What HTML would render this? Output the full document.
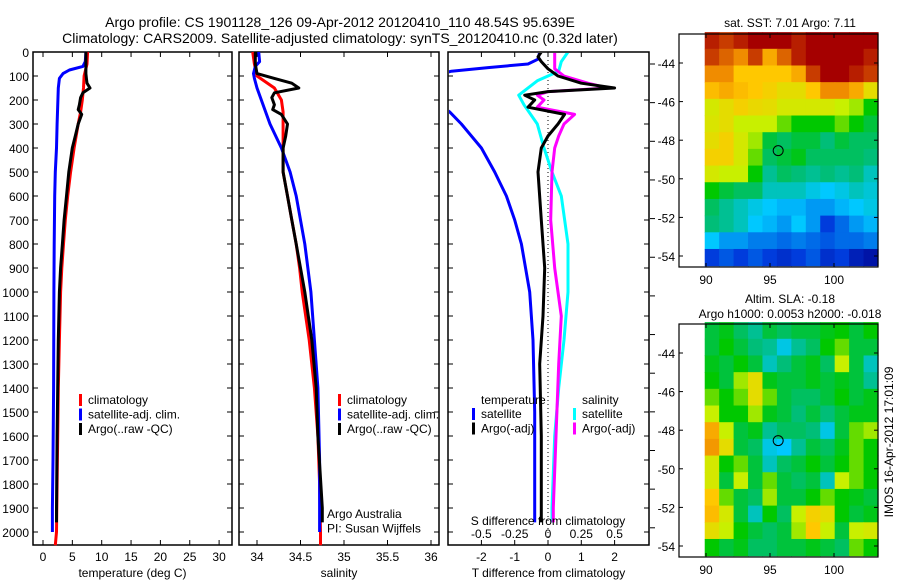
<!DOCTYPE html>
<html><head><meta charset="utf-8"><style>
html,body{margin:0;padding:0;background:#fff;}
svg{display:block;font-family:"Liberation Sans",sans-serif;}
</style></head><body>
<svg id="fig" width="900" height="580" viewBox="0 0 900 580" xmlns="http://www.w3.org/2000/svg">
<g font-size="14" text-anchor="middle">
<text x="340" y="27">Argo profile: CS 1901128_126 09-Apr-2012 20120410_110 48.54S 95.639E</text>
<text x="340" y="43">Climatology: CARS2009. Satellite-adjusted climatology: synTS_20120410.nc (0.32d later)</text>
</g>
<g id="plots"></g>
</svg>
<script>
// ---------- profile data ----------
const depthRed = [0,50,100,150,200,250,300,400,500,600,700,800,900,1000,1200,1400,1600,1800,2000,2055];
const tempRed = [7.6,7.5,7.0,6.9,6.7,6.4,6.0,5.3,4.7,4.2,3.8,3.5,3.2,3.0,2.8,2.6,2.5,2.4,2.3,2.1];
const salRed = [33.95,33.97,34.0,34.2,34.28,34.3,34.3,34.3,34.3,34.35,34.4,34.45,34.49,34.52,34.6,34.66,34.7,34.72,34.73,34.73];
const depthBlue = [0,40,60,75,90,110,150,300,400,500,600,800,1000,1400,1700,1900,2000];
const tempBlue = [7.3,7.2,6.8,4.5,3.4,2.8,2.6,2.4,2.3,2.1,2.0,1.9,1.85,1.8,1.7,1.6,1.6];
const salBlue = [34.02,34.03,33.98,33.97,33.96,33.97,34.0,34.15,34.28,34.38,34.45,34.55,34.62,34.7,34.72,34.72,34.72];
const depthArgo = [0,50,90,110,130,150,170,190,220,240,260,300,350,400,500,600,700,800,900,1000,1200,1400,1600,1900,1960];
const tempArgo = [7.3,7.3,7.3,7.4,7.5,8.0,6.8,6.4,6.2,6.0,6.6,6.0,5.5,5.0,4.4,4.0,3.6,3.3,3.0,2.8,2.6,2.5,2.4,2.3,2.3];
const salArgo = [33.98,33.98,34.0,34.2,34.4,34.48,34.2,34.17,34.2,34.18,34.28,34.35,34.33,34.3,34.3,34.35,34.4,34.45,34.5,34.55,34.63,34.68,34.7,34.75,34.75];
// differences
const depthDT = [0,30,50,65,80,100,200,250,300,400,500,600,700,800,1000,1200,1500,1900,1960];
const dTsat = [-0.25,-0.3,-0.6,-1.8,-2.9,-3.5,-3.5,-2.95,-2.6,-2.0,-1.6,-1.25,-1.0,-0.8,-0.55,-0.45,-0.4,-0.4,-0.4];
const depthD = [0,20,40,70,100,130,150,165,180,200,230,260,300,350,400,500,700,900,1100,1300,1600,1900,1960];
const dTargo = [-0.2,-0.3,-0.2,0.0,0.3,1.0,2.0,0.0,-0.7,-0.4,-0.6,0.5,0.3,0.0,-0.2,-0.3,-0.2,-0.1,-0.15,-0.25,-0.2,-0.2,-0.2];
const dSargo = [0.05,0.05,0.05,0.05,0.12,0.3,0.45,0.0,-0.08,-0.03,-0.08,0.2,0.12,0.08,0.05,0.03,0.02,0.05,0.1,0.08,0.06,0.04,0.04];
const depthDS = [0,40,80,120,180,220,300,400,500,600,800,1000,1200,1400,1600,1900,1960];
const dSsat = [0.15,0.1,0.08,-0.08,-0.22,-0.18,-0.08,-0.03,0.03,0.1,0.15,0.15,0.12,0.08,0.05,0.03,0.03];
const depthTicks = [0,100,200,300,400,500,600,700,800,900,1000,1100,1200,1300,1400,1500,1600,1700,1800,1900,2000];
const tempTicks = [0,5,10,15,20,25,30];
const salTicks = [34,34.5,35,35.5,36];
const dTTicks = [-2,-1,0,1,2];
const dSTicks = [-0.5,-0.25,0,0.25,0.5];
const dSTickLabels = ["-0.5","-0.25","0","0.25","0.5"];
// ---------- map data (0..1 on colormap) ----------
const sstGrid = [
[0.95,0.9,0.95,1,1,1,0.95,1,1,1,1,1],
[0.9,0.85,0.8,0.9,0.75,0.85,0.95,1,1,1,1,0.95],
[0.8,0.8,0.7,0.7,0.7,0.7,0.75,0.9,1,1,0.95,0.9],
[0.72,0.75,0.72,0.7,0.68,0.65,0.65,0.7,0.8,0.8,0.75,0.65],
[0.62,0.65,0.68,0.66,0.65,0.62,0.62,0.62,0.62,0.6,0.58,0.5],
[0.63,0.65,0.6,0.6,0.6,0.55,0.5,0.5,0.5,0.55,0.5,0.45],
[0.65,0.68,0.62,0.58,0.45,0.42,0.45,0.45,0.4,0.45,0.42,0.42],
[0.68,0.68,0.62,0.55,0.42,0.45,0.48,0.42,0.42,0.42,0.42,0.4],
[0.62,0.6,0.6,0.5,0.38,0.42,0.4,0.38,0.4,0.38,0.4,0.35],
[0.5,0.45,0.42,0.42,0.35,0.35,0.35,0.32,0.3,0.32,0.35,0.33],
[0.42,0.38,0.35,0.32,0.3,0.28,0.28,0.25,0.25,0.28,0.3,0.32],
[0.4,0.38,0.35,0.3,0.28,0.25,0.3,0.25,0.15,0.2,0.25,0.28],
[0.3,0.25,0.25,0.22,0.22,0.2,0.22,0.2,0.18,0.2,0.2,0.22],
[0.15,0.18,0.15,0.18,0.15,0.12,0.15,0.18,0.12,0.15,0.08,0.05]];
const slaGrid = [
[.45,.48,.42,.38,.45,.42,.45,.45,.48,.5,.45,.5],
[.45,.5,.45,.4,.38,.32,.38,.42,.5,.55,.45,.45],
[.48,.45,.5,.45,.35,.4,.45,.48,.42,.6,.45,.35],
[.5,.45,.58,.65,.48,.45,.45,.48,.45,.48,.45,.38],
[.55,.5,.55,.65,.55,.45,.42,.42,.45,.5,.45,.48],
[.6,.5,.5,.58,.48,.45,.4,.45,.4,.45,.48,.48],
[.75,.6,.45,.48,.38,.42,.42,.4,.32,.45,.55,.58],
[.78,.65,.45,.42,.32,.3,.38,.45,.42,.48,.55,.5],
[.62,.5,.55,.45,.35,.42,.45,.5,.45,.5,.55,.5],
[.62,.45,.6,.45,.55,.45,.42,.45,.35,.6,.55,.5],
[.7,.55,.45,.42,.58,.45,.45,.5,.55,.5,.48,.45],
[.72,.62,.45,.35,.5,.42,.6,.68,.65,.5,.45,.48],
[.65,.6,.5,.45,.42,.45,.58,.7,.6,.45,.6,.62],
[.5,.45,.48,.42,.42,.45,.45,.48,.45,.42,.55,.5]];
const latTicks = [-44,-46,-48,-50,-52,-54];
const lonTicks = [90,95,100];
const floatLon = 95.639, floatLat = -48.54;

const NS="http://www.w3.org/2000/svg";
const root=document.getElementById('plots');
function mk(tag,attrs,parent){const e=document.createElementNS(NS,tag);for(const k in attrs)e.setAttribute(k,attrs[k]);(parent||root).appendChild(e);return e;}
function txt(s,x,y,anchor,size,parent){const t=mk('text',{x:x,y:y,'text-anchor':anchor||'start','font-size':size||12},parent);t.textContent=s;return t;}

const Y0=52, Ypx=0.24;
const yD=d=>Y0+d*Ypx;
const yTop=52, yBot=545;

function panel(name,x0,x1,xs,ticks,labels,xlabel,showY){
  const g=mk('g',{});
  
  
  const fr=mk('rect',{x:x0,y:yTop,width:x1-x0,height:yBot-yTop,fill:'none',stroke:'#000','stroke-width':1.5},g);
  
  
  depthTicks.forEach(d=>{
    mk('line',{x1:x0,x2:x0+5,y1:yD(d),y2:yD(d),stroke:'#000'},g);
    mk('line',{x1:x1-5,x2:x1,y1:yD(d),y2:yD(d),stroke:'#000'},g);
    if(showY){const t=txt(String(d),29,yD(d)+5,'end',12,g);
      
      }
  });
  ticks.forEach((v,i)=>{
    const x=xs(v);
    mk('line',{x1:x,x2:x,y1:yTop,y2:yTop+5,stroke:'#000'},g);
    mk('line',{x1:x,x2:x,y1:yBot-5,y2:yBot,stroke:'#000'},g);
    const t=txt(labels?labels[i]:String(v),x,561,'middle',12,g);
    
    
  });
  const xl=txt(xlabel,(x0+x1)/2,577,'middle',12,g);
  
  
  return g;
}
function line(g,name,depths,vals,xs,color,w,clip){
  const pts=depths.map((d,i)=>xs(vals[i]).toFixed(1)+','+yD(d).toFixed(1)).join(' ');
  const p=mk('polyline',{points:pts,fill:'none',stroke:color,'stroke-width':w||3,'stroke-linejoin':'round'},g);
  if(clip)p.setAttribute('clip-path',clip);
  
  
}
function legend(g,x,y,entries){
  entries.forEach((e,i)=>{
    const yy=y+i*14.5;
    if(e.color){mk('rect',{x:x,y:yy-10,width:3,height:12,fill:e.color},g);}
    const t=txt(e.label,x+(e.color?9:0),yy,'start',12,g);
    
    
  });
}

const xT=v=>43+v*5.87;
const g1=panel('temperature-panel',33,232,xT,tempTicks,null,'temperature (deg C)',true);
line(g1,'temp-climatology-line',depthRed,tempRed,xT,'#f00');
line(g1,'temp-satellite-line',depthBlue,tempBlue,xT,'#00f');
line(g1,'temp-argo-line',depthArgo,tempArgo,xT,'#000');
legend(g1,79,404,[{color:'#f00',label:'climatology'},{color:'#00f',label:'satellite-adj. clim.'},{color:'#000',label:'Argo(..raw -QC)'}]);

const xS=v=>257+(v-34)*87;
const g2=panel('salinity-panel',239,439,xS,salTicks,null,'salinity',false);
line(g2,'sal-climatology-line',depthRed,salRed,xS,'#f00');
line(g2,'sal-satellite-line',depthBlue,salBlue,xS,'#00f');
line(g2,'sal-argo-line',depthArgo,salArgo,xS,'#000');
legend(g2,338,404,[{color:'#f00',label:'climatology'},{color:'#00f',label:'satellite-adj. clim.'},{color:'#000',label:'Argo(..raw -QC)'}]);
legend(g2,327,518,[{label:'Argo Australia'},{label:'PI: Susan Wijffels'}]);

const xDT=v=>548+v*33.3;
const xDS=v=>548+v*133.2;
mk('clipPath',{id:'c3'}).appendChild(document.createElementNS(NS,'rect'));
const cr=document.querySelector('#c3 rect');cr.setAttribute('x',449);cr.setAttribute('y',53);cr.setAttribute('width',199);cr.setAttribute('height',491);
const g3=panel('difference-panel',448,649,xDT,dTTicks,null,'T difference from climatology',false);
const zl=mk('line',{x1:548,x2:548,y1:yTop,y2:yBot,stroke:'#000','stroke-dasharray':'1,3'},g3);


line(g3,'dT-satellite-line',depthDT,dTsat,xDT,'#00f',3,'url(#c3)');
line(g3,'dS-satellite-line',depthDS,dSsat,xDS,'#0ff',3,'url(#c3)');
line(g3,'dS-argo-line',depthD,dSargo,xDS,'#f0f',3,'url(#c3)');
line(g3,'dT-argo-line',depthD,dTargo,xDT,'#000',3,'url(#c3)');
dSTicks.forEach((v,i)=>{const t=txt(dSTickLabels[i],xDS(v),538,'middle',12,g3);
  
  });
const st=txt('S difference from climatology',548,525,'middle',12,g3);


legend(g3,481,404,[{label:'temperature'}]);
legend(g3,472,418,[{color:'#00f',label:'satellite'},{color:'#000',label:'Argo(-adj)'}]);
legend(g3,582,404,[{label:'salinity'}]);
legend(g3,573,418,[{color:'#0ff',label:'satellite'},{color:'#f0f',label:'Argo(-adj)'}]);
for(let y=64;y<550;y+=38.65){mk('line',{x1:650,x2:655,y1:y,y2:y,stroke:'#000'},g3);}

// ---------- maps ----------
const cmapStops=[[0,0,0,140],[0.15,0,60,220],[0.3,0,200,255],[0.4,0,190,120],[0.5,0,200,0],[0.6,200,240,0],[0.7,255,200,0],[0.8,240,140,0],[0.9,200,60,0],[1,165,0,0]];
function cmap(v){
  v=Math.max(0,Math.min(1,v));
  for(let i=1;i<cmapStops.length;i++){
    const a=cmapStops[i-1],b=cmapStops[i];
    if(v<=b[0]){const f=(v-a[0])/(b[0]-a[0]);
      return 'rgb('+[1,2,3].map(k=>Math.round(a[k]+(b[k]-a[k])*f)).join(',')+')';}
  }
  return 'rgb(165,0,0)';
}
function map(name,grid,oy,titleLines){
  const g=mk('g',{});
  
  
  const lonX=v=>706+(v-90)*12.8;
  const latY=v=>oy+63+(-44-v)*19.3;
  const x0=lonX(89.9), x1=878, y0=latY(-42.4), y1=latY(-54.5);
  const nr=grid.length, nc=grid[0].length;
  const cw=(x1-x0)/nc, ch=(y1-y0)/nr;
  grid.forEach((row,i)=>row.forEach((v,j)=>{
    const c=mk('rect',{x:(x0+j*cw).toFixed(2),y:(y0+i*ch).toFixed(2),width:(cw+0.6).toFixed(2),height:(ch+0.6).toFixed(2),fill:cmap(v)},g);
    
    
  }));
  const fr=mk('rect',{x:679,y:oy+34,width:199,height:233,fill:'none',stroke:'#000','stroke-width':1.2},g);
  
  
  latTicks.forEach(v=>{
    mk('line',{x1:679,x2:683,y1:latY(v),y2:latY(v),stroke:'#000'},g);
    mk('line',{x1:874,x2:878,y1:latY(v),y2:latY(v),stroke:'#000'},g);
    const t=txt(String(v),675,latY(v)+5,'end',12,g);
    
    
  });
  lonTicks.forEach(v=>{
    mk('line',{x1:lonX(v),x2:lonX(v),y1:oy+34,y2:oy+38,stroke:'#000'},g);
    mk('line',{x1:lonX(v),x2:lonX(v),y1:oy+263,y2:oy+267,stroke:'#000'},g);
    const t=txt(String(v),lonX(v),oy+284,'middle',12,g);
    
    
  });
  const c=mk('circle',{cx:lonX(floatLon),cy:latY(floatLat),r:5,fill:'none',stroke:'#000','stroke-width':1},g);
  
  
  titleLines.forEach((s,i)=>{const t=txt(s,790,oy+(titleLines.length===1?27:13+i*15),'middle',12,g);
    
    });
}
map('sst-map',sstGrid,0,['sat. SST: 7.01 Argo: 7.11']);
map('sla-map',slaGrid,290,['Altim. SLA: -0.18','Argo h1000: 0.0053 h2000: -0.018']);
const st2=txt('IMOS 16-Apr-2012 17:01:09',0,0,'middle',12);
st2.setAttribute('transform','translate(893,442) rotate(-90)');


</script>
</body></html>
